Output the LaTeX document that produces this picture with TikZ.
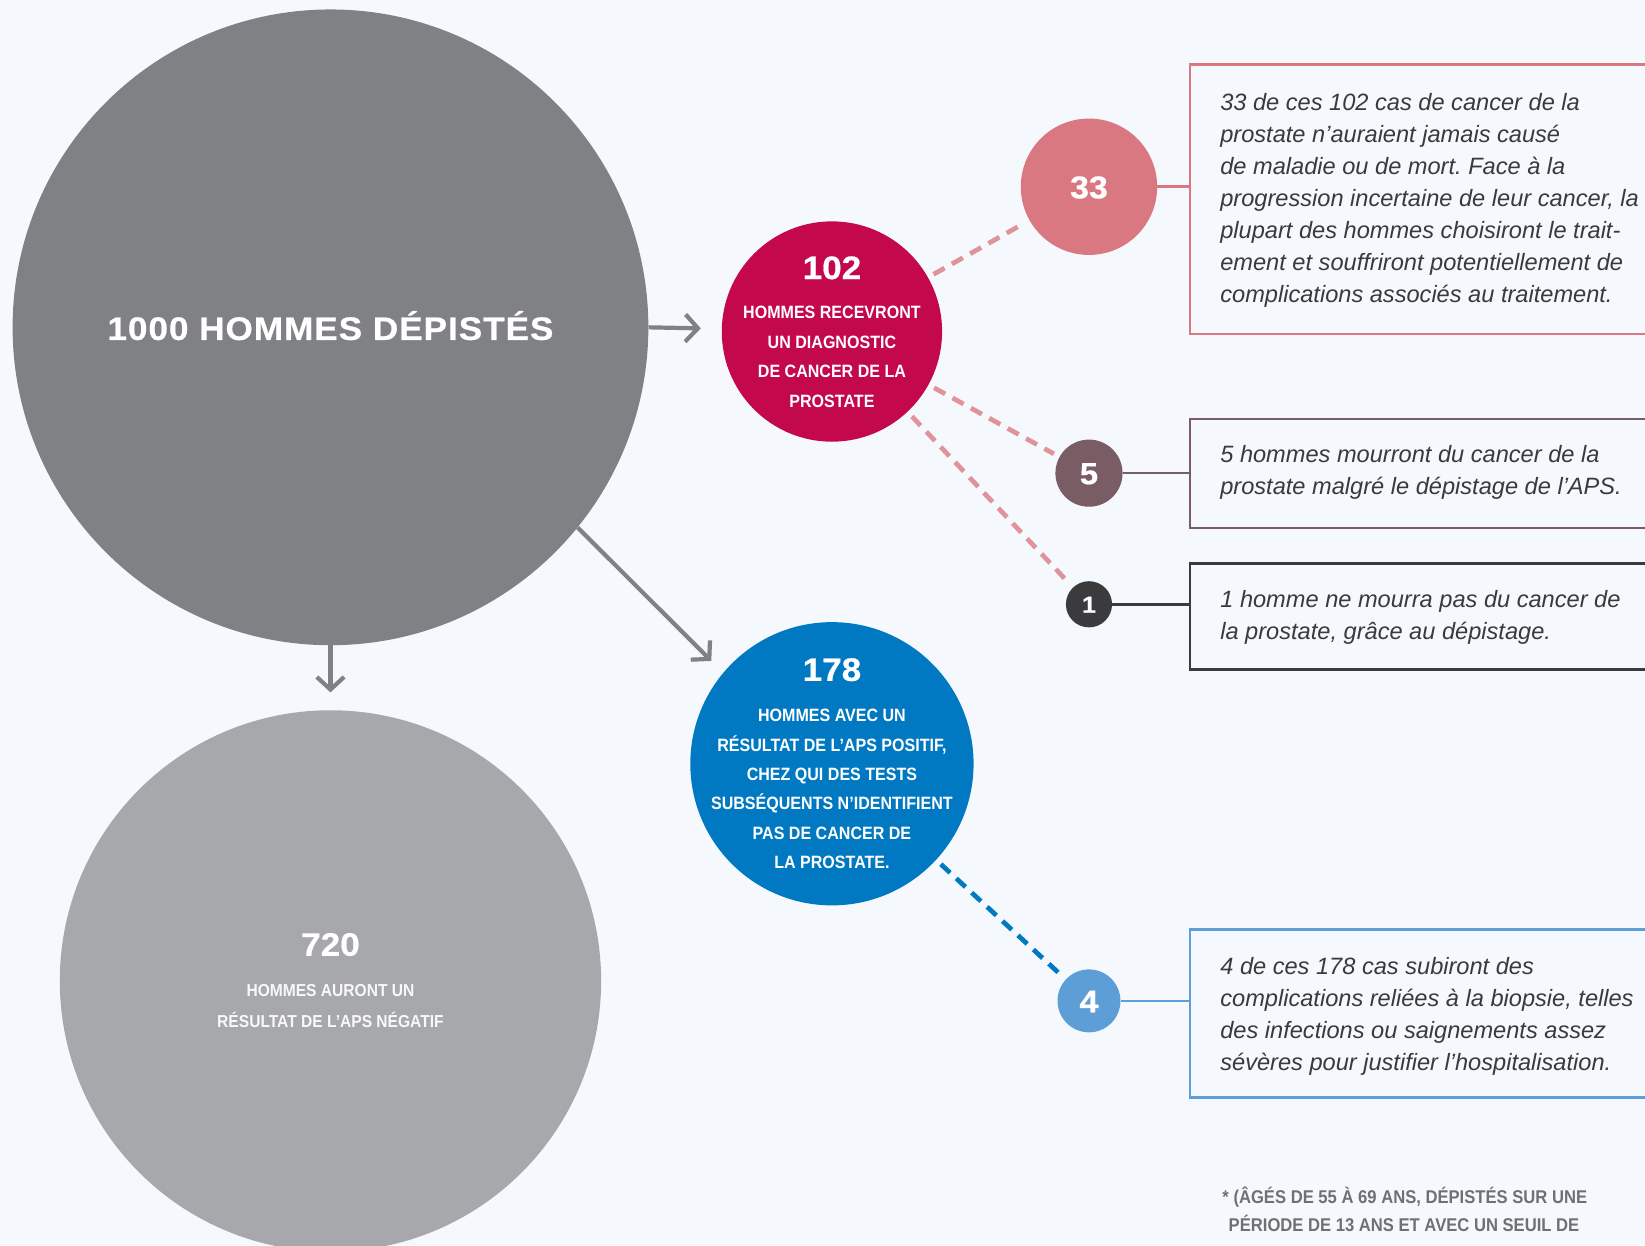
\documentclass[tikz,border=0pt]{standalone}
\usepackage{fontspec}
\setmainfont{Liberation Sans}
\newfontfamily\numfont{Liberation Sans}[FakeStretch=1.08, FakeBold=0.6]
\newfontfamily\titlefont{Liberation Sans}[FakeStretch=1.08, LetterSpace=3, FakeBold=0.6]
\newfontfamily\condfont{Liberation Sans}[FakeStretch=0.9]
\usetikzlibrary{arrows.meta}
\definecolor{bgc}{HTML}{F5F9FD}
\definecolor{darkgray}{HTML}{808184}
\definecolor{lightgray}{HTML}{A7A8AB}
\definecolor{crimson}{HTML}{C4084C}
\definecolor{pinkc}{HTML}{DA7882}
\definecolor{mauve}{HTML}{7A5C64}
\definecolor{darkc}{HTML}{3B3A3C}
\definecolor{bluec}{HTML}{0079C2}
\definecolor{lightblue}{HTML}{5E9ED6}
\definecolor{dashpinkc}{HTML}{E0939B}
\definecolor{txtc}{HTML}{3A3A3C}
\definecolor{footc}{HTML}{707072}
\frenchspacing
\begin{document}
\begin{tikzpicture}[x=1pt,y=-1pt,
  dot/.style={circle, inner sep=0pt, draw=none},
  arr/.style={draw=darkgray, line width=4pt, -{Straight Barb[length=12pt,width=26pt]}},
  dashln/.style={line width=4.5pt, dash pattern=on 12pt off 8pt, shorten <=6pt, shorten >=6pt},
  conn/.style={line width=2.5pt},
  infobox/.style={draw, line width=2.5pt, rectangle, anchor=north west, inner sep=0pt, minimum width=500pt},
  boxtext/.style={anchor=base west, align=left, inner sep=0pt, text=txtc, font={\fontsize{22.5}{30.4}\selectfont\itshape}},
  circtext/.style={text=white, font={\condfont\bfseries\fontsize{17}{28}\selectfont}, align=center, anchor=base, inner sep=0pt},
  num/.style={text=white, font={\numfont\bfseries\fontsize{31}{31}\selectfont}, anchor=base, inner sep=0pt},
  foot/.style={anchor=base west, inner sep=0pt, text=footc, font={\condfont\bfseries\fontsize{17.6}{27}\selectfont}}
]
\clip (0,0) rectangle (1568,1187);
\fill[bgc] (0,0) rectangle (1568,1187);

% big circles
\node[dot, fill=darkgray, minimum size=606pt] (big) at (315,312) {};
\node[dot, fill=lightgray, minimum size=516pt] (c720) at (315,935) {};
\node[dot, fill=crimson, minimum size=210pt] (c102) at (793,316) {};
\node[dot, fill=bluec, minimum size=270pt] (c178) at (793,728) {};
\node[dot, fill=pinkc, minimum size=130pt] (c33) at (1038,178) {};
\node[dot, fill=mauve, minimum size=64pt] (c5) at (1038,451) {};
\node[dot, fill=darkc, minimum size=44pt] (c1) at (1038,576) {};
\node[dot, fill=lightblue, minimum size=60pt] (c4) at (1038,954) {};

% title
\node[anchor=base, inner sep=0pt, text=white, font={\titlefont\bfseries\fontsize{31}{31}\selectfont}] (title) at (315,324) {1000 HOMMES DÉPISTÉS};

% arrows
\coordinate (rtip) at (668,313);
\coordinate (dtip) at (315,660);
\coordinate (gtip) at (678,630);
\draw[arr] (big.east) -- (rtip);
\draw[arr] (big.south) -- (dtip);
\draw[arr] (big.-39.6) -- (gtip);

% numbers and circle texts (base anchor = last line)
\node[num] (n102) at (793,266) {102};
\node[circtext] (t102) at (793,388) {HOMMES RECEVRONT\\UN DIAGNOSTIC\\DE CANCER DE LA\\PROSTATE};
\node[num] (n178) at (793,649) {178};
\node[circtext] (t178) at (793,828) {HOMMES AVEC UN\\RÉSULTAT DE L’APS POSITIF,\\CHEZ QUI DES TESTS\\SUBSÉQUENTS N’IDENTIFIENT\\PAS DE CANCER DE\\LA PROSTATE.};
\node[num] (n720) at (315,911) {720};
\node[circtext, font={\condfont\bfseries\fontsize{16.5}{29}\selectfont}, text=white!92!lightgray] (t720) at (315,979) {HOMMES AURONT UN\\RÉSULTAT DE L’APS NÉGATIF};
\node[num, font={\numfont\bfseries\fontsize{30}{30}\selectfont}] (n33) at (1038,189) {33};
\node[num, font={\numfont\bfseries\fontsize{29}{29}\selectfont}] (n5) at (1038,461.5) {5};
\node[num, font={\numfont\bfseries\fontsize{22}{22}\selectfont}] (n1) at (1038,584) {1};
\node[num, font={\numfont\bfseries\fontsize{30}{30}\selectfont}] (n4) at (1038,965) {4};

% dashed connectors
\draw[dashln, draw=dashpinkc] (c102) -- (c33);
\draw[dashln, draw=dashpinkc] (c102) -- (c5);
\draw[dashln, draw=dashpinkc] (c102) -- (c1);
\draw[dashln, draw=bluec] (c178) -- (c4);

% boxes
\node[infobox, draw=pinkc, minimum height=257pt] (b1) at (1133,60) {};
\node[infobox, draw=mauve, minimum height=104pt] (b2) at (1133,398) {};
\node[infobox, draw=darkc, minimum height=101pt] (b3) at (1133,536) {};
\node[infobox, draw=lightblue, minimum height=160pt] (b4) at (1133,885) {};

\draw[conn, draw=pinkc] (c33.east) -- (c33.east -| b1.west);
\draw[conn, draw=mauve] (c5.east) -- (c5.east -| b2.west);
\draw[conn, draw=darkc] (c1.east) -- (c1.east -| b3.west);
\draw[conn, draw=lightblue] (c4.east) -- (c4.east -| b4.west);

% box texts (base anchor = last line)
\node[boxtext] (bt1) at (1163,288) {33 de ces 102 cas de cancer de la\\prostate n’auraient jamais causé\\de maladie ou de mort. Face à la\\progression incertaine de leur cancer, la\\plupart des hommes choisiront le trait-\\ement et souffriront potentiellement de\\complications associés au traitement.};
\node[boxtext] (bt2) at (1163,471.4) {5 hommes mourront du cancer de la\\prostate malgré le dépistage de l’APS.};
\node[boxtext] (bt3) at (1163,609.4) {1 homme ne mourra pas du cancer de\\la prostate, grâce au dépistage.};
\node[boxtext] (bt4) at (1163,1020.2) {4 de ces 178 cas subiront des\\complications reliées à la biopsie, telles\\des infections ou saignements assez\\sévères pour justifier l’hospitalisation.};

% footnote
\node[foot] (f1) at (1165,1147) {* (ÂGÉS DE 55 À 69 ANS, DÉPISTÉS SUR UNE};
\node[foot] (f2) at (1171,1174) {PÉRIODE DE 13 ANS ET AVEC UN SEUIL DE};
\end{tikzpicture}
\end{document}
